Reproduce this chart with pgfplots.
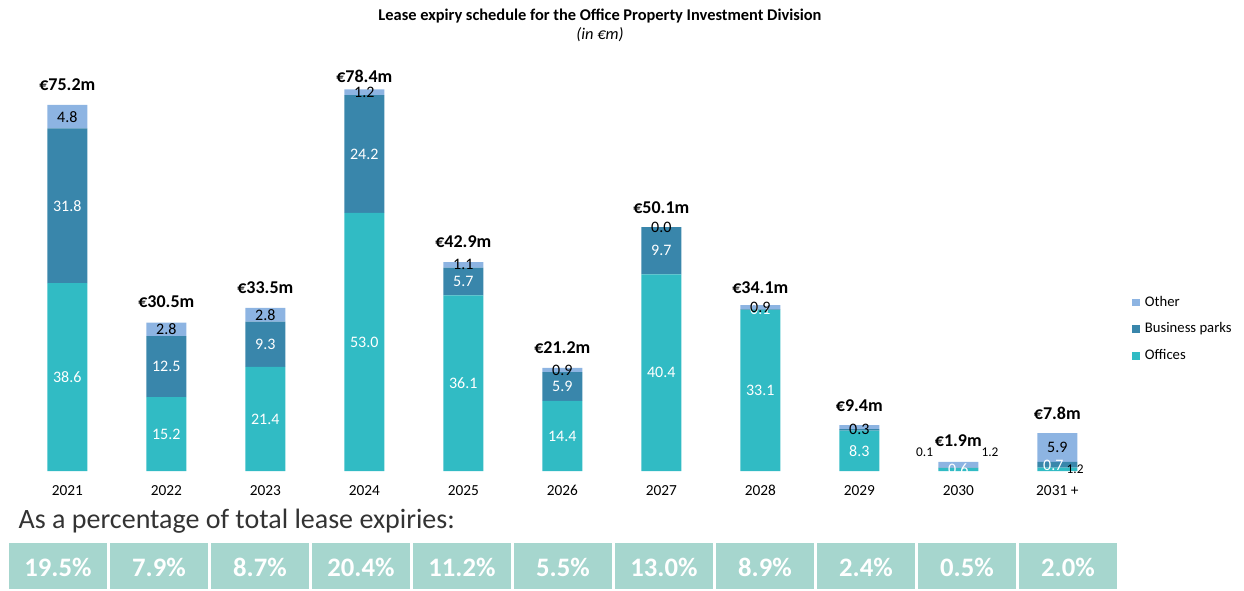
\documentclass[border=0pt]{standalone}
\usepackage{fontspec}
\setmainfont{Carlito}
\usepackage{pgfplots}
\pgfplotsset{compat=1.18}
\definecolor{offc}{HTML}{31BBC4}
\definecolor{bpc}{HTML}{3986AB}
\definecolor{othc}{HTML}{8DB4E2}
\definecolor{boxc}{HTML}{A6D6CE}
\pgfplotsset{
  leasebase/.style={
    scale only axis, width=816.75pt, height=292.08pt,
    xmin=-0.5, xmax=10.5, ymin=0, ymax=80,
    at={(13.35pt,89.25pt)}, anchor=south west, clip=false,
  },
}
\begin{document}
\begin{tikzpicture}[x=0.75pt,y=0.75pt]
\useasboundingbox (0,0) rectangle (1244,590);
% titles
\node[font=\fontsize{12.3}{14}\selectfont\bfseries] at (600,574) {Lease expiry schedule for the Office Property Investment Division};
\node[font=\fontsize{12.3}{14}\selectfont\itshape] at (600,555) {(in €m)};

% bars
\begin{axis}[leasebase,
    ybar stacked, bar width=30pt,
    axis line style={draw=none}, tick style={draw=none}, major tick length=0pt,
    ytick=\empty,
    xtick={0,...,10},
    xticklabels={2021,2022,2023,2024,2025,2026,2027,2028,2029,2030,2031 +},
    xticklabel style={font=\fontsize{11.5}{13}\selectfont, anchor=base, yshift=-18.4pt},
    reverse legend,
    legend cell align=left,
    legend image code/.code={\fill[#1] (0pt,-2.9pt) rectangle (5.8pt,2.9pt);},
    legend style={at={(1.0231,0.364)}, anchor=west, draw=none, fill=none,
      inner sep=0pt, row sep=9.5pt,
      font=\fontsize{11}{13}\selectfont,
      nodes={inner ysep=0pt, inner xsep=3.75pt, text height=8pt, text depth=2.5pt}},
  ]
  \addplot[fill=offc, draw=none] coordinates {(0,38.6) (1,15.2) (2,21.4) (3,53.0) (4,36.1) (5,14.4) (6,40.4) (7,33.1) (8,8.3) (9,0.6) (10,0.7)};
  \addplot[fill=bpc, draw=none] coordinates {(0,31.8) (1,12.5) (2,9.3) (3,24.2) (4,5.7) (5,5.9) (6,9.7) (7,0.1) (8,0.3) (9,0.1) (10,1.2)};
  \addplot[fill=othc, draw=none] coordinates {(0,4.8) (1,2.8) (2,2.8) (3,1.2) (4,1.1) (5,0.9) (6,0.0) (7,0.9) (8,0.8) (9,1.2) (10,5.9)};
  \legend{Offices, Business parks, Other}
\end{axis}

% data labels
\begin{axis}[leasebase, hide axis,
    nodes near coords, point meta=explicit symbolic,
    every node near coord/.append style={anchor=center, inner sep=0pt, font=\fontsize{12}{14}\selectfont},
  ]
  \addplot[draw=none, every node near coord/.append style={text=white}] coordinates {
    (0,19.3)[38.6] (1,7.6)[15.2] (2,10.7)[21.4] (3,26.5)[53.0] (4,18.05)[36.1] (5,7.2)[14.4]
    (6,20.2)[40.4] (7,16.55)[33.1] (8,4.15)[8.3] (9,0.3)[0.6] (9.96,1.2)[0.7]
    (0,54.5)[31.8] (1,21.45)[12.5] (2,26.05)[9.3] (3,65.1)[24.2] (4,38.95)[5.7] (5,17.35)[5.9]
    (6,45.25)[9.7] (7,33.15)[0.1]};
  \addplot[draw=none, every node near coord/.append style={text=black}] coordinates {
    (0,72.8)[4.8] (1,29.1)[2.8] (2,32.1)[2.8] (3,77.8)[1.2] (4,42.35)[1.1] (5,20.75)[0.9]
    (6,50.1)[0.0] (7,33.65)[0.9] (8,8.45)[0.3] (10,4.85)[5.9]};
  \addplot[draw=none, every node near coord/.append style={text=black, font=\fontsize{10}{12}\selectfont}] coordinates {
    (8.66,3.9)[0.1] (9.32,3.9)[1.2] (10.18,0.4)[1.2]};
  \addplot[draw=none, every node near coord/.append style={font=\fontsize{13.5}{15}\selectfont\bfseries}] coordinates {
    (0,79.3)[€75.2m] (1,34.7)[€30.5m] (2,37.6)[€33.5m] (3,81.0)[€78.4m] (4,47.2)[€42.9m]
    (5,25.3)[€21.2m] (6,54.0)[€50.1m] (7,37.6)[€34.1m] (8,13.4)[€9.4m] (9,6.2)[€1.9m] (10,11.9)[€7.8m]};
\end{axis}

% percentage row
\node[anchor=base west, font=\fontsize{21}{24}\selectfont, text=black!80] at (14,62) {As a percentage of total lease expiries:};
\foreach \p [count=\i from 0] in {19.5,7.9,8.7,20.4,11.2,5.5,13.0,8.9,2.4,0.5,2.0} {
  \fill[boxc] (9+101*\i,1) rectangle (107+101*\i,47);
  \node[text=white, font=\fontsize{20}{23}\selectfont\bfseries] at (58+101*\i,23) {\p\%};
}
\end{tikzpicture}
\end{document}
